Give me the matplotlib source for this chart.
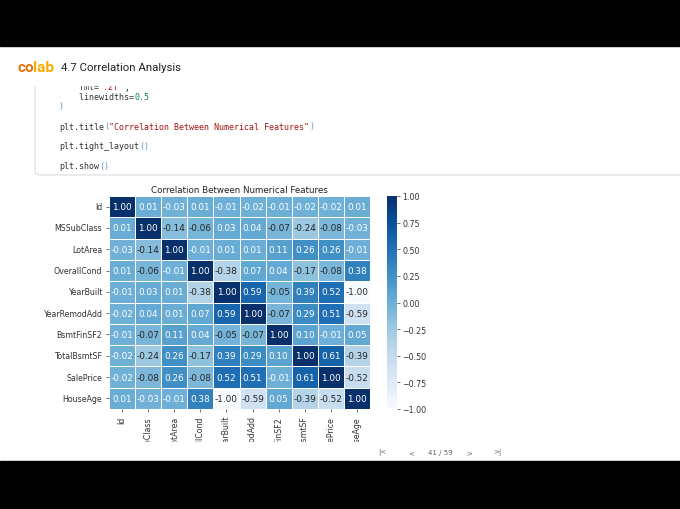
import numpy as np
import matplotlib.pyplot as plt
import seaborn as sns
from matplotlib.patches import Rectangle, FancyBboxPatch

features = ["Id", "MSSubClass", "LotArea", "OverallCond", "YearBuilt",
            "YearRemodAdd", "BsmtFinSF2", "TotalBsmtSF", "SalePrice", "HouseAge"]

row_id = [1.00, 0.01, -0.03, 0.01, -0.01, -0.02, -0.01, -0.02, -0.02, 0.01]
row_mssubclass = [0.01, 1.00, -0.14, -0.06, 0.03, 0.04, -0.07, -0.24, -0.08, -0.03]
row_lotarea = [-0.03, -0.14, 1.00, -0.01, 0.01, 0.01, 0.11, 0.26, 0.26, -0.01]
row_overallcond = [0.01, -0.06, -0.01, 1.00, -0.38, 0.07, 0.04, -0.17, -0.08, 0.38]
row_yearbuilt = [-0.01, 0.03, 0.01, -0.38, 1.00, 0.59, -0.05, 0.39, 0.52, -1.00]
row_yearremodadd = [-0.02, 0.04, 0.01, 0.07, 0.59, 1.00, -0.07, 0.29, 0.51, -0.59]
row_bsmtfinsf2 = [-0.01, -0.07, 0.11, 0.04, -0.05, -0.07, 1.00, 0.10, -0.01, 0.05]
row_totalbsmtsf = [-0.02, -0.24, 0.26, -0.17, 0.39, 0.29, 0.10, 1.00, 0.61, -0.39]
row_saleprice = [-0.02, -0.08, 0.26, -0.08, 0.52, 0.51, -0.01, 0.61, 1.00, -0.52]
row_houseage = [0.01, -0.03, -0.01, 0.38, -1.00, -0.59, 0.05, -0.39, -0.52, 1.00]

corr = np.array([row_id, row_mssubclass, row_lotarea, row_overallcond, row_yearbuilt,
                 row_yearremodadd, row_bsmtfinsf2, row_totalbsmtsf, row_saleprice,
                 row_houseage])

cbar_ticks = [-1.0, -0.75, -0.5, -0.25, 0.0, 0.25, 0.5, 0.75, 1.0]

W, H = 680, 510
fig = plt.figure(figsize=(6.8, 5.1), dpi=100)
fig.patch.set_facecolor("white")


# pixel (from top-left) -> figure fraction
def fx(x):
    return x / W


def fy(y):
    return 1 - y / H


#heatmap + colorbar
ax = fig.add_axes([fx(109), fy(410), (370 - 109) / W, (410 - 197) / H])
cax = fig.add_axes([fx(387), fy(410), 10 / W, (410 - 197) / H])
sns.heatmap(corr, ax=ax, cbar_ax=cax, cmap="Blues", vmin=-1, vmax=1,
            annot=True, fmt=".2f", linewidths=0.5,
            xticklabels=features, yticklabels=features,
            annot_kws={"size": 6.4})
ax.set_xticklabels(features, rotation=90)
ax.set_yticklabels(features, rotation=0)
ax.tick_params(labelsize=5.7, length=2, width=0.5, pad=3, colors="#333333")
ax.set_title("Correlation Between Numerical Features", fontsize=6.3, pad=3,
             color="#222222")
cax.set_yticks(cbar_ticks)
cax.tick_params(labelsize=5.7, length=2, width=0.5, pad=2, colors="#333333")

#output area cut off below the x labels
fig.add_artist(Rectangle((fx(85), fy(462)), (400 - 85) / W, (462 - 443) / H,
                         transform=fig.transFigure, color="white", zorder=5))

nav_y = fy(453)
for x, s in [(382, "|<"), (411, "<"), (440, "41 / 59"), (469, ">"), (497, ">|")]:
    fig.text(fx(x), nav_y, s, fontsize=5, color="#5f6368", ha="center",
             va="center", zorder=6)

#code cell
fig.add_artist(FancyBboxPatch((fx(35), fy(176)), (700 - 35) / W, (176 - 60) / H,
                              boxstyle="round,pad=0,rounding_size=0.008",
                              transform=fig.transFigure, facecolor="white",
                              edgecolor="#dadce0", linewidth=0.8, zorder=1))

cw = 5.02  # mono char width in px
code_lines = [
    (88, [("    fmt=", "#333333"), ("'.2f'", "#a31515"), (",", "#333333")]),
    (97, [("    linewidths=", "#333333"), ("0.5", "#098658")]),
    (107, [(")", "#5c8fd6")]),
    (127, [("plt.title", "#333333"), ("(", "#5c8fd6"),
           ('"Correlation Between Numerical Features"', "#a31515"), (")", "#5c8fd6")]),
    (147, [("plt.tight_layout", "#333333"), ("()", "#5c8fd6")]),
    (167, [("plt.show", "#333333"), ("()", "#5c8fd6")]),
]
for y, pieces in code_lines:
    x = 59
    for s, c in pieces:
        fig.text(fx(x), fy(y), s, family="DejaVu Sans Mono", fontsize=6,
                 color=c, ha="left", va="center", zorder=3)
        x += len(s) * cw

#header (covers the top of the code cell)
fig.add_artist(Rectangle((0, fy(86)), 1, (86 - 47) / H, transform=fig.transFigure,
                         color="white", zorder=6))
fig.text(fx(18), fy(68), "co", family="Roboto", fontweight="bold", fontsize=11,
         color="#E8710A", va="center", zorder=7)
fig.text(fx(33.5), fy(68), "lab", family="Roboto", fontweight="bold", fontsize=11,
         color="#F9AB00", va="center", zorder=7)
fig.text(fx(61), fy(68), "4.7 Correlation Analysis", family="Roboto", fontsize=8.2,
         color="#202124", va="center", zorder=7)

#black video bars
fig.add_artist(Rectangle((0, fy(47)), 1, 47 / H, transform=fig.transFigure,
                         color="black", zorder=10))
fig.add_artist(Rectangle((0, 0), 1, (H - 462) / H, transform=fig.transFigure,
                         color="black", zorder=10))

plt.savefig("out.png", dpi=100)
